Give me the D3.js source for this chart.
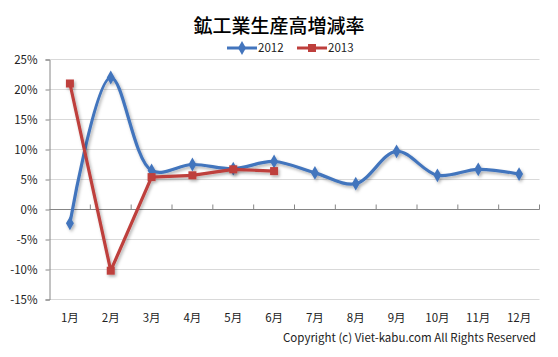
<!DOCTYPE html>
<html><head><meta charset="utf-8">
<script src="https://cdn.jsdelivr.net/npm/d3@7/dist/d3.min.js"></script>
<style>
body{margin:0;background:#fff;}
svg{display:block;}
text{font-family:"Noto Sans CJK JP","Noto Sans",sans-serif;}
</style></head>
<body>
<script>
const categories = ["1月","2月","3月","4月","5月","6月","7月","8月","9月","10月","11月","12月"];
const series2012 = [-2.3, 22.0, 6.5, 7.5, 6.8, 8.0, 6.1, 4.3, 9.7, 5.7, 6.7, 5.9];
const series2013 = [21.0, -10.2, 5.4, 5.7, 6.7, 6.4];
const yTicks = [-15, -10, -5, 0, 5, 10, 15, 20, 25];
const title = "鉱工業生産高増減率";
const copyright = "Copyright (c) Viet-kabu.com  All Rights Reserved";

const W = 558, H = 357;
const m = {left: 49.5, right: 18.5, top: 59.5, bottom: 57.5};
const svg = d3.select("body").append("svg").attr("width", W).attr("height", H);

const defs = svg.append("defs");
const f = defs.append("filter").attr("id","sh").attr("x","-10%").attr("y","-10%").attr("width","130%").attr("height","130%");
f.append("feDropShadow").attr("dx",1.5).attr("dy",2).attr("stdDeviation",1.5).attr("flood-color","#000").attr("flood-opacity",0.3);

const x = d3.scaleBand().domain(categories).range([m.left, W - m.right]);
const y = d3.scaleLinear().domain([-15, 25]).range([H - m.bottom, m.top]);
const cx = d => x(d) + x.bandwidth() / 2;

// gridlines
svg.append("g").selectAll("line").data(yTicks).join("line")
  .attr("x1", m.left).attr("x2", W - m.right)
  .attr("y1", d => y(d)).attr("y2", d => y(d))
  .attr("stroke", "#d9d9d9").attr("stroke-width", 1);

// y axis
const yAxis = d3.axisLeft(y).tickValues(yTicks).tickSize(4).tickPadding(8).tickFormat(d => d + "%");
const gy = svg.append("g").attr("transform", `translate(${m.left},0)`).call(yAxis);
gy.select(".domain").attr("stroke", "#868686");
gy.selectAll(".tick line").attr("stroke", "#868686");
gy.selectAll("text").attr("font-size", 11.5).attr("fill", "#222");

// x axis at 0 with ticks pointing up
const gx = svg.append("g").attr("transform", `translate(0,${y(0)})`);
gx.append("line").attr("x1", m.left).attr("x2", W - m.right).attr("stroke", "#868686");
const tickPos = categories.map(c => x(c)).concat([x(categories[categories.length-1]) + x.bandwidth()]);
gx.selectAll("line.t").data(tickPos.slice(1)).join("line").attr("class","t")
  .attr("x1", d => d).attr("x2", d => d).attr("y1", 0).attr("y2", -5).attr("stroke", "#868686");

// x labels at bottom
svg.append("g").selectAll("text").data(categories).join("text")
  .attr("x", d => cx(d)).attr("y", H - m.bottom + 22)
  .attr("text-anchor", "middle").attr("font-size", 11.5).attr("fill", "#222")
  .text(d => d);

// 2012 smooth line
const c12 = "#4375BD", c13 = "#BE3F3C";
const line12 = d3.line().x((d,i) => cx(categories[i])).y(d => y(d)).curve(d3.curveCatmullRom.alpha(0.5));
const line13 = d3.line().x((d,i) => cx(categories[i])).y(d => y(d));

const g12 = svg.append("g").attr("filter","url(#sh)");
g12.append("path").datum(series2012).attr("d", line12).attr("fill","none").attr("stroke", c12).attr("stroke-width", 3.2).attr("stroke-linejoin","round");
const diamond = d3.symbol().type(d3.symbolDiamond).size(55);
g12.selectAll("path.m").data(series2012).join("path").attr("class","m")
  .attr("transform", (d,i) => `translate(${cx(categories[i])},${y(d)})`)
  .attr("d", diamond).attr("fill", c12);

const g13 = svg.append("g").attr("filter","url(#sh)");
g13.append("path").datum(series2013).attr("d", line13).attr("fill","none").attr("stroke", c13).attr("stroke-width", 3.2).attr("stroke-linejoin","round");
g13.selectAll("rect").data(series2013).join("rect")
  .attr("x", (d,i) => cx(categories[i]) - 4).attr("y", d => y(d) - 4)
  .attr("width", 8).attr("height", 8).attr("fill", c13);

// title
svg.append("text").attr("x", 279).attr("y", 33).attr("text-anchor","middle")
  .attr("font-size", 19).attr("font-weight", 500).attr("fill","#000").text(title);

// legend
const leg = [{name:"2012", c:c12, t:"d", x0:227},{name:"2013", c:c13, t:"s", x0:297}];
const lg = svg.append("g");
leg.forEach(L => {
  const x0 = L.x0, yy = 48;
  lg.append("line").attr("x1", x0).attr("x2", x0 + 30).attr("y1", yy).attr("y2", yy).attr("stroke", L.c).attr("stroke-width", 3);
  if (L.t === "d") lg.append("path").attr("transform", `translate(${x0+15},${yy})`).attr("d", diamond).attr("fill", L.c);
  else lg.append("rect").attr("x", x0 + 11).attr("y", yy - 4).attr("width", 8).attr("height", 8).attr("fill", L.c);
  lg.append("text").attr("x", x0 + 31).attr("y", yy + 4).attr("font-size", 11.5).attr("fill","#222").text(L.name);
});

// copyright
svg.append("text").attr("x", 536).attr("y", 342).attr("text-anchor","end")
  .attr("font-size", 11.5).attr("fill","#222").text(copyright);
</script>
</body></html>
